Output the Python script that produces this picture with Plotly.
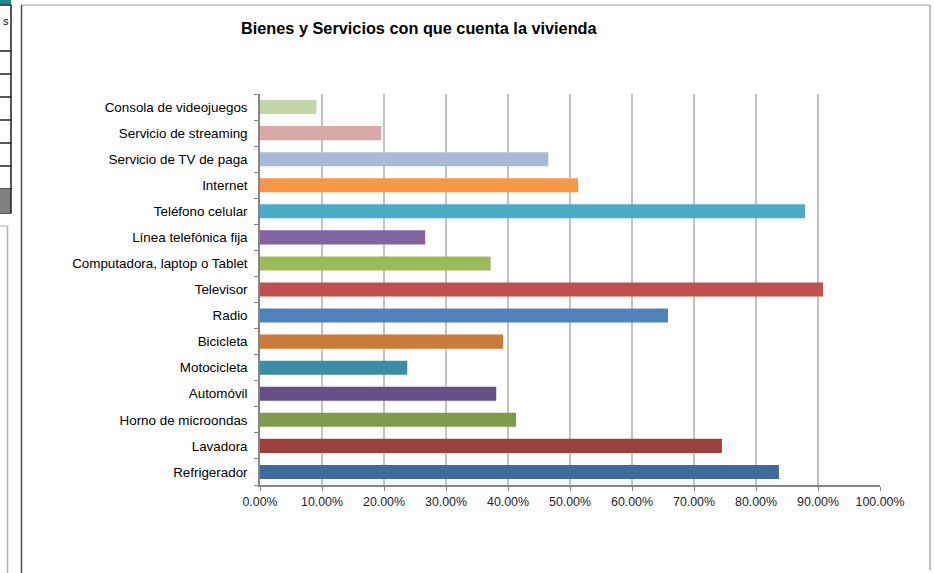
import plotly.graph_objects as go

categories = [
    "Refrigerador", "Lavadora", "Horno de microondas", "Automóvil", "Motocicleta",
    "Bicicleta", "Radio", "Televisor", "Computadora, laptop o Tablet",
    "Línea telefónica fija", "Teléfono celular", "Internet",
    "Servicio de TV de paga", "Servicio de streaming", "Consola de videojuegos",
]
values = [0.837, 0.745, 0.413, 0.381, 0.2375, 0.392, 0.658, 0.908, 0.372,
          0.2665, 0.879, 0.513, 0.465, 0.1956, 0.091]
colors = ["#3E6A9C", "#9C403E", "#7F9A48", "#664F86", "#3A8DA4", "#CC7A37",
          "#4F81BD", "#C0504D", "#9BBB59", "#8064A2", "#4BACC6", "#F79646",
          "#A9B9D7", "#D9A9A8", "#C4D6A9"]
x_ticks = [0, 0.1, 0.2, 0.3, 0.4, 0.5, 0.6, 0.7, 0.8, 0.9, 1.0]
title_text = "Bienes y Servicios con que cuenta la vivienda"

W, H = 934, 573
L, R, T, B = 260, 880, 94, 485
FONT = "Arial, Liberation Sans, sans-serif"

def px(x):
    return (x - L) / (R - L)

def py(y):
    return (B - y) / (B - T)

fig = go.Figure(go.Bar(
    y=categories, x=values, orientation="h",
    marker=dict(color=colors, line=dict(width=0)),
    hoverinfo="x+y",
))

shapes = []
# chart-area border (top, left, right)
shapes.append(dict(type="line", xref="paper", yref="paper", x0=px(21), x1=px(930), y0=py(5), y1=py(5),
                   line=dict(color="#D0D0D0", width=2)))
shapes.append(dict(type="line", xref="paper", yref="paper", x0=px(21.5), x1=px(21.5), y0=py(5), y1=py(575),
                   line=dict(color="#505050", width=1.5)))
shapes.append(dict(type="line", xref="paper", yref="paper", x0=px(930), x1=px(930), y0=py(5), y1=py(570),
                   line=dict(color="#A8A8A8", width=1.5)))
# spreadsheet cells on the far left
shapes.append(dict(type="rect", xref="paper", yref="paper", x0=px(-5), x1=px(11), y0=py(0), y1=py(4.5),
                   fillcolor="#1E8C8C", line=dict(width=0)))
for yy in [5, 51, 74, 97, 120, 143, 166, 189, 213]:
    shapes.append(dict(type="line", xref="paper", yref="paper", x0=px(-5), x1=px(11.5), y0=py(yy), y1=py(yy),
                       line=dict(color="#202020", width=1.5)))
shapes.append(dict(type="rect", xref="paper", yref="paper", x0=px(-5), x1=px(11), y0=py(189), y1=py(213),
                   fillcolor="#808080", line=dict(width=0)))
shapes.append(dict(type="line", xref="paper", yref="paper", x0=px(11), x1=px(11), y0=py(5), y1=py(213),
                   line=dict(color="#202020", width=1.5)))
shapes.append(dict(type="line", xref="paper", yref="paper", x0=px(-5), x1=px(7.5), y0=py(226), y1=py(226),
                   line=dict(color="#B0B0B0", width=1)))
shapes.append(dict(type="line", xref="paper", yref="paper", x0=px(7.5), x1=px(7.5), y0=py(226), y1=py(575),
                   line=dict(color="#B0B0B0", width=1.5)))

fig.update_layout(
    width=W, height=H,
    margin=dict(l=L, r=W - R, t=T, b=H - B, pad=0),
    paper_bgcolor="white", plot_bgcolor="white",
    showlegend=False,
    bargap=0.46,
    font=dict(family=FONT, size=12, color="#000000"),
    shapes=shapes,
    annotations=[
        dict(text="<b>" + title_text + "</b>", xref="paper", yref="paper",
             x=px(419), y=py(28), xanchor="center", yanchor="middle", showarrow=False,
             font=dict(family=FONT, size=16.3, color="#000000")),
        dict(text="s", xref="paper", yref="paper", x=px(1), y=py(21), xanchor="left", yanchor="middle",
             showarrow=False, font=dict(family=FONT, size=11, color="#000000")),
    ],
    xaxis=dict(
        range=[0, 1.0], tickvals=x_ticks, tickformat=".2%",
        showgrid=True, gridcolor="#C2C2C2", gridwidth=2,
        showline=True, linecolor="#868686", linewidth=1.5,
        ticks="outside", ticklen=4, tickcolor="#868686", tickwidth=1,
        tickfont=dict(family=FONT, size=12.4, color="#222222"),
        zeroline=False, fixedrange=True,
    ),
    yaxis=dict(
        type="category", categoryorder="array", categoryarray=categories,
        range=[-0.5, len(categories) - 0.5],
        showline=True, linecolor="#868686", linewidth=1.5,
        ticks="outside", ticklen=4, tickcolor="#868686", tickwidth=1,
        tickson="boundaries", ticklabelstandoff=8,
        tickfont=dict(family=FONT, size=13.4, color="#000000"),
        showgrid=False, zeroline=False, fixedrange=True,
    ),
)

fig.write_html(
    "out.html",
    config={"displayModeBar": False},
    post_script="document.body.style.margin='0';document.body.style.overflow='hidden';",
)
